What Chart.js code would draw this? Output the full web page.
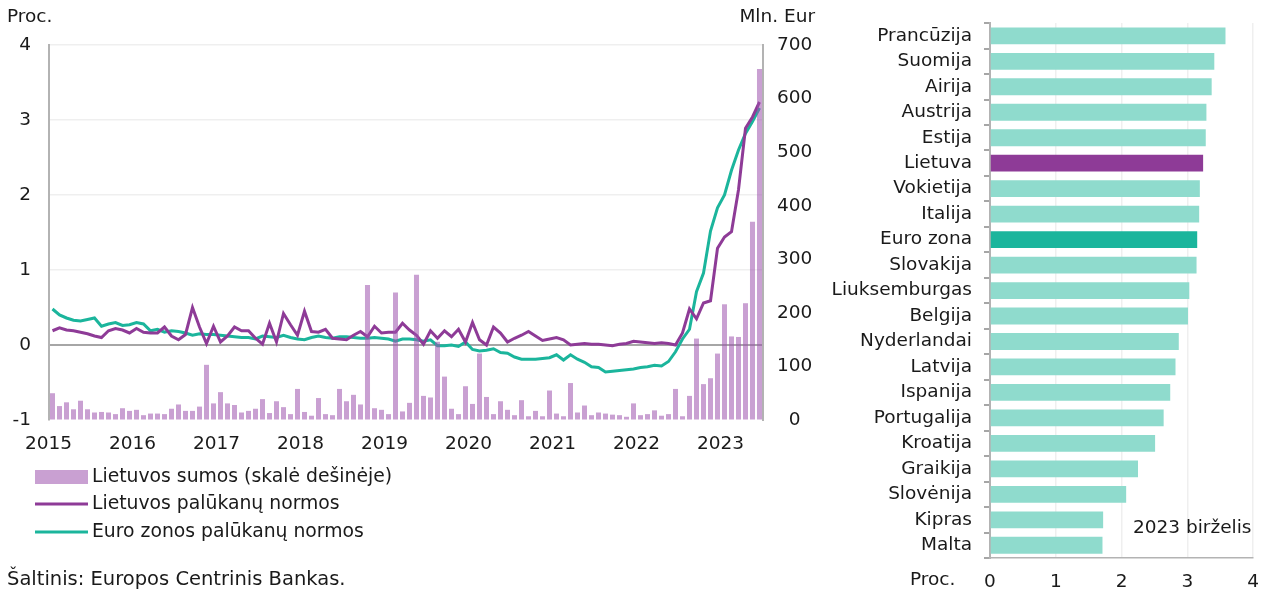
<!DOCTYPE html>
<html>
<head>
<meta charset="utf-8">
<script src="https://cdn.jsdelivr.net/npm/chart.js@4.4.1/dist/chart.umd.min.js"></script>
<style>
  html, body { margin: 0; padding: 0; background: #ffffff; }
  #wrap { position: relative; width: 1272px; height: 592px; overflow: hidden; }
  #left { position: absolute; left: 0; top: 0; }
  #right { position: absolute; left: 830px; top: 0; }
</style>
</head>
<body>
<div id="wrap">
  <canvas id="left" width="830" height="592"></canvas>
  <canvas id="right" width="442" height="592"></canvas>
</div>
<script>
// ---------- DATA ----------
const years = ['2015','2016','2017','2018','2019','2020','2021','2022','2023'];
const monthCodes = ['01','02','03','04','05','06','07','08','09','10','11','12'];
const lastMonthCount = 6; // 2023: Jan..Jun
const months = [];
years.forEach((y, yi) => {
  const n = yi === years.length - 1 ? lastMonthCount : 12;
  for (let m = 0; m < n; m++) months.push(y + '-' + monthCodes[m]);
});

// Lietuvos sumos (Mln. Eur, right axis)
const ltVolumes = [
  50, 26, 33, 20, 36, 20, 14, 15, 14, 11, 22, 17,
  19, 9, 12, 12, 11, 21, 29, 17, 17, 25, 103, 31,
  52, 31, 28, 14, 17, 21, 39, 13, 35, 24, 11, 58,
  15, 8, 41, 11, 9, 58, 35, 47, 29, 252, 22, 19,
  11, 238, 16, 32, 271, 45, 42, 146, 81, 21, 11, 63,
  30, 124, 43, 11, 35, 19, 9, 37, 7, 17, 7, 55,
  12, 7, 69, 14, 27, 9, 14, 12, 10, 9, 6, 31,
  9, 11, 18, 8, 11, 58, 7, 45, 152, 67, 78, 124,
  216, 156, 155, 218, 370, 655
];
// Lietuvos palūkanų normos (Proc.)
const ltRates = [
  0.19, 0.23, 0.20, 0.19, 0.17, 0.15, 0.12, 0.10, 0.19, 0.22, 0.20, 0.16,
  0.22, 0.17, 0.16, 0.16, 0.24, 0.12, 0.07, 0.14, 0.50, 0.24, 0.02, 0.25,
  0.04, 0.12, 0.24, 0.19, 0.19, 0.09, 0.01, 0.29, 0.04, 0.42, 0.27, 0.13,
  0.45, 0.18, 0.17, 0.21, 0.09, 0.08, 0.07, 0.13, 0.18, 0.11, 0.25, 0.16,
  0.17, 0.17, 0.29, 0.20, 0.13, 0.01, 0.19, 0.09, 0.19, 0.11, 0.21, 0.04,
  0.30, 0.07, 0.00, 0.24, 0.16, 0.04, 0.09, 0.13, 0.18, 0.12, 0.06, 0.08,
  0.10, 0.07, 0.00, 0.01, 0.02, 0.01, 0.01, 0.00, -0.01, 0.01, 0.02, 0.05,
  0.04, 0.03, 0.02, 0.03, 0.02, 0.00, 0.16, 0.48, 0.35, 0.56, 0.59, 1.29,
  1.44, 1.51, 2.07, 2.89, 3.04, 3.24
];
// Euro zonos palūkanų normos (Proc.)
const euRates = [
  0.48, 0.40, 0.36, 0.33, 0.32, 0.34, 0.36, 0.25, 0.28, 0.30, 0.26, 0.27,
  0.30, 0.28, 0.19, 0.21, 0.17, 0.19, 0.18, 0.16, 0.13, 0.15, 0.14, 0.14,
  0.13, 0.12, 0.11, 0.10, 0.10, 0.08, 0.12, 0.11, 0.10, 0.13, 0.10, 0.08,
  0.07, 0.10, 0.12, 0.10, 0.09, 0.11, 0.11, 0.10, 0.09, 0.09, 0.10, 0.09,
  0.08, 0.05, 0.08, 0.08, 0.07, 0.05, 0.07, -0.01, -0.01, 0.00, -0.02, 0.04,
  -0.06, -0.08, -0.07, -0.05, -0.10, -0.11, -0.16, -0.19, -0.19, -0.19, -0.18, -0.17,
  -0.13, -0.20, -0.13, -0.19, -0.23, -0.29, -0.30, -0.36, -0.35, -0.34, -0.33, -0.32,
  -0.30, -0.29, -0.27, -0.28, -0.22, -0.09, 0.08, 0.21, 0.71, 0.96, 1.52, 1.83,
  2.00, 2.33, 2.60, 2.82, 2.98, 3.16
];
const seriesLabels = ['Lietuvos sumos (skalė dešinėje)', 'Lietuvos palūkanų normos', 'Euro zonos palūkanų normos'];
const leftAxisTitle = 'Proc.';
const rightAxisTitle = 'Mln. Eur';
const sourceText = 'Šaltinis: Europos Centrinis Bankas.';

// Right chart
const countries = ['Prancūzija','Suomija','Airija','Austrija','Estija','Lietuva','Vokietija','Italija','Euro zona','Slovakija','Liuksemburgas','Belgija','Nyderlandai','Latvija','Ispanija','Portugalija','Kroatija','Graikija','Slovėnija','Kipras','Malta'];
const countryRates = [3.58, 3.41, 3.37, 3.29, 3.28, 3.24, 3.19, 3.18, 3.15, 3.14, 3.03, 3.01, 2.87, 2.82, 2.74, 2.64, 2.51, 2.25, 2.07, 1.72, 1.71];
const rightNote = '2023 birželis';
const rightAxisUnit = 'Proc.';

// ---------- STYLE ----------
const FONT = "'DejaVu Sans', Verdana, sans-serif";
const FS = 18.5;
const FS_LEGEND = 18.8;
const FS_SOURCE = 19.5;
const TXT = '#1a1a1a';
const C_BAR = 'rgba(157, 82, 173, 0.55)';
const C_LT = '#8e3b97';
const C_EU = '#1bb59c';
const C_LIGHT = '#8fdbcd';
const AXIS = '#b3b3b3';
const GRID = '#efefef';

Chart.defaults.font.family = FONT;
Chart.defaults.font.size = FS;
Chart.defaults.color = TXT;

// ---------- LEFT CHART ----------
const leftText = {
  id: 'leftText',
  afterDraw(chart) {
    const ctx = chart.ctx;
    ctx.save();
    ctx.font = FS + 'px ' + FONT;
    ctx.fillStyle = TXT;
    ctx.textBaseline = 'middle';
    ctx.textAlign = 'left';
    ctx.fillText(leftAxisTitle, 7, 17);
    ctx.textAlign = 'right';
    ctx.fillText(rightAxisTitle, 815, 17);
    ctx.textAlign = 'left';
    ctx.font = FS_SOURCE + 'px ' + FONT;
    ctx.fillText(sourceText, 7, 580);
    ctx.font = FS_LEGEND + 'px ' + FONT;
    const legendY = [477, 504, 532];
    chart.data.datasets.forEach((ds, i) => {
      const y = legendY[i];
      if (ds.type === 'bar') {
        ctx.fillStyle = ds.backgroundColor;
        ctx.fillRect(35, y - 7, 53, 14);
      } else {
        ctx.strokeStyle = ds.borderColor;
        ctx.lineWidth = 3;
        ctx.beginPath();
        ctx.moveTo(35, y);
        ctx.lineTo(88, y);
        ctx.stroke();
      }
      ctx.fillStyle = TXT;
      ctx.fillText(ds.label, 92, y);
    });
    ctx.restore();
  }
};

new Chart(document.getElementById('left'), {
  data: {
    labels: months,
    datasets: [
      { type: 'bar', label: seriesLabels[0], data: ltVolumes, yAxisID: 'y1',
        backgroundColor: C_BAR, borderWidth: 0, barPercentage: 0.72, categoryPercentage: 1, order: 0 },
      { type: 'line', label: seriesLabels[1], data: ltRates, yAxisID: 'y',
        borderColor: C_LT, borderWidth: 3, pointRadius: 0, tension: 0, order: 1 },
      { type: 'line', label: seriesLabels[2], data: euRates, yAxisID: 'y',
        borderColor: C_EU, borderWidth: 3, pointRadius: 0, tension: 0, order: 2 }
    ]
  },
  options: {
    responsive: false,
    animation: false,
    layout: { padding: { left: 0, right: 0, top: 45, bottom: 142 } },
    plugins: { legend: { display: false }, tooltip: { enabled: false } },
    scales: {
      x: {
        type: 'category',
        grid: { display: false },
        border: { display: false },
        ticks: {
          autoSkip: false, maxRotation: 0, minRotation: 0, padding: 5, labelOffset: -4,
          callback: (v, i) => months[i].endsWith('-01') ? months[i].slice(0, 4) : ''
        },
        afterFit: s => { s.height = 30; }
      },
      y: {
        position: 'left', min: -1, max: 4,
        ticks: { stepSize: 1, padding: 18 },
        grid: {
          drawTicks: false,
          color: c => c.tick.value === 0 ? '#a6a6a6' : (c.tick.value === -1 ? 'rgba(0,0,0,0)' : GRID),
          lineWidth: c => c.tick.value === 0 ? 2 : 1.5
        },
        border: { color: AXIS, width: 2 },
        afterFit: s => { s.width = 49; }
      },
      y1: {
        position: 'right', min: 0, max: 700,
        ticks: { stepSize: 100, padding: 14, crossAlign: 'center' },
        grid: { drawOnChartArea: false, drawTicks: false },
        border: { color: AXIS, width: 2 },
        afterFit: s => { s.width = 67; }
      }
    }
  },
  plugins: [leftText]
});

// ---------- RIGHT CHART ----------
const rightText = {
  id: 'rightText',
  afterDraw(chart) {
    const ctx = chart.ctx;
    ctx.save();
    ctx.font = FS + 'px ' + FONT;
    ctx.fillStyle = TXT;
    ctx.textBaseline = 'middle';
    ctx.textAlign = 'left';
    ctx.fillText(rightNote, 303, 528);
    ctx.fillText(rightAxisUnit, 80, 580);
    ctx.restore();
  }
};

new Chart(document.getElementById('right'), {
  type: 'bar',
  data: {
    labels: countries,
    datasets: [{
      data: countryRates,
      backgroundColor: countries.map(c => c === 'Lietuva' ? C_LT : (c === 'Euro zona' ? C_EU : C_LIGHT)),
      borderWidth: 0,
      barPercentage: 0.66,
      categoryPercentage: 1
    }]
  },
  options: {
    indexAxis: 'y',
    responsive: false,
    animation: false,
    layout: { padding: { left: 0, right: 12, top: 15, bottom: 0 } },
    plugins: { legend: { display: false }, tooltip: { enabled: false } },
    scales: {
      x: {
        min: 0, max: 4,
        ticks: { stepSize: 1, padding: 13 },
        grid: { color: GRID, lineWidth: 1.5, drawTicks: false },
        border: { color: AXIS, width: 1.5 },
        afterFit: s => { s.height = 34; }
      },
      y: {
        ticks: { padding: 12, autoSkip: false },
        grid: { drawOnChartArea: false, drawTicks: true, tickLength: 6, color: '#a6a6a6', lineWidth: 2 },
        border: { color: AXIS, width: 2 },
        afterFit: s => { s.width = 160; }
      }
    }
  },
  plugins: [rightText]
});
</script>
</body>
</html>
